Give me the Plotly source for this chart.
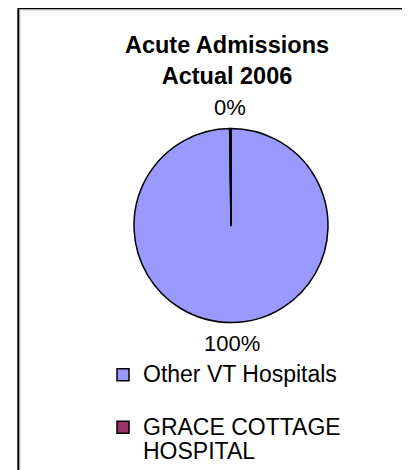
import math
import plotly.graph_objects as go

# ---- data ----
categories = ["Other VT Hospitals", "GRACE COTTAGE HOSPITAL"]
legend_labels = ["Other VT Hospitals<br> ", "GRACE COTTAGE<br>HOSPITAL"]
admissions = [54000, 120]
colors = ["#9999FF", "#993366"]
title_lines = ["Acute Admissions", "Actual 2006"]

W, H = 410, 470
OFF = 8  # page body margin
FONT = "Liberation Sans, Arial, Helvetica, sans-serif"

def px_x(v):
    return (v - OFF) / W

def px_y(v):
    return 1 - (v - OFF) / H

# pie box in page pixels (left, top, right, bottom)
PL, PT, PR, PB = 134, 128, 328, 323
cx, cy = (PL + PR) / 2, (PT + PB) / 2
r = min(PR - PL, PB - PT) / 2
LABEL_GAP = 21.5

fig = go.Figure()
fig.add_trace(go.Pie(
    labels=[f"<span style='font-size:23px'>{t}</span>" for t in legend_labels],
    values=admissions,
    customdata=categories,
    sort=False,
    direction="clockwise",
    rotation=0,
    marker=dict(colors=colors, line=dict(color="black", width=1.5)),
    textinfo="none",
    domain=dict(x=[px_x(PL), px_x(PR)], y=[px_y(PB), px_y(PT)]),
    hoverinfo="skip",
))

# percentage labels placed outside each slice's mid-angle
total = sum(admissions)
annotations = []
cum = 0
for v in admissions:
    mid = (cum + v / 2) / total * 2 * math.pi  # clockwise from 12 o'clock
    cum += v
    rr = r + LABEL_GAP
    lx = cx + rr * math.sin(mid)
    ly = cy - rr * math.cos(mid)
    annotations.append(dict(
        text=f"{v / total:.0%}", x=px_x(lx), y=px_y(ly),
        xref="paper", yref="paper", xanchor="center", yanchor="middle",
        showarrow=False, font=dict(family=FONT, size=22, color="black"),
    ))

fig.update_layout(
    width=W, height=H,
    margin=dict(l=0, r=0, t=0, b=0),
    paper_bgcolor="white",
    plot_bgcolor="white",
    font=dict(family=FONT, color="black"),
    title=dict(
        text="<b>" + "<br>".join(title_lines) + "</b>",
        font=dict(family=FONT, size=23.5, color="black"),
        x=px_x(227), xanchor="center",
        y=px_y(53), yanchor="top",
    ),
    showlegend=True,
    legend=dict(
        font=dict(family=FONT, size=19, color="black"),
        x=px_x(103), xanchor="left",
        y=px_y(356), yanchor="top",
        valign="top",
        bgcolor="rgba(0,0,0,0)",
        traceorder="normal",
    ),
    annotations=annotations,
    shapes=[
        dict(type="rect", xref="paper", yref="paper",
             x0=px_x(20), x1=1.1, y0=-0.1, y1=px_y(10),
             line=dict(color="#c8c8c8", width=1), layer="below"),
        dict(type="rect", xref="paper", yref="paper",
             x0=px_x(18.3), x1=1.1, y0=-0.1, y1=px_y(8.3),
             line=dict(color="black", width=2), layer="below"),
    ],
)

fig.write_html("out.html")
